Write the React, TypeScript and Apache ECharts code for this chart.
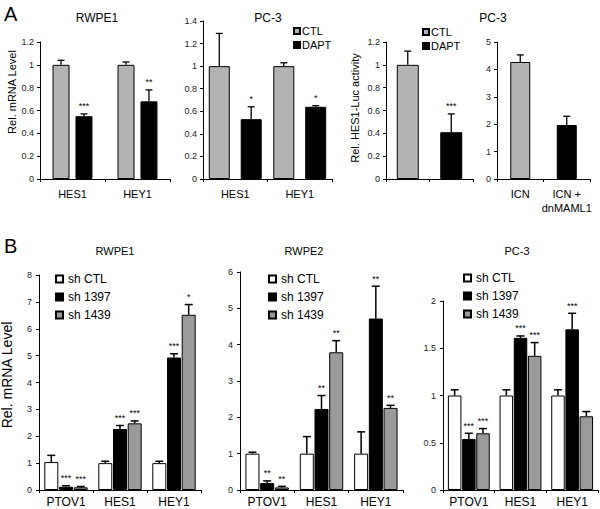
import React, { useEffect, useRef } from 'react';
import * as echarts from 'echarts';

const FONT = '"Liberation Sans", Arial, Helvetica, sans-serif';
const GRAY_A = '#b3b3b3';
const GRAY_B = '#9a9a9a';

// ---------- Panel A1: RWPE1 ----------
const a1Categories = ['HES1', 'HEY1'];
const a1Ctl = [1.0, 1.0];
const a1CtlErr = [0.04, 0.025];
const a1Dapt = [0.55, 0.68];
const a1DaptErr = [0.02, 0.1];
const a1DaptStars = ['***', '**'];

// ---------- Panel A2: PC-3 ----------
const a2Categories = ['HES1', 'HEY1'];
const a2Ctl = [1.0, 1.0];
const a2CtlErr = [0.29, 0.03];
const a2Dapt = [0.53, 0.64];
const a2DaptErr = [0.11, 0.01];
const a2DaptStars = ['*', '*'];

// ---------- Panel A3: HES1-Luc ----------
const a3Categories = ['', ''];
const a3Ctl = [1.0, null];
const a3CtlErr = [0.12, null];
const a3Dapt = [null, 0.41];
const a3DaptErr = [null, 0.16];
const a3DaptStars = ['', '***'];

// ---------- Panel A4: PC-3 ICN ----------
const a4Categories = ['ICN', 'ICN +\ndnMAML1'];
const a4Icn = [4.27, null];
const a4IcnErr = [0.26, null];
const a4Dn = [null, 1.97];
const a4DnErr = [null, 0.32];

// ---------- Panel B ----------
const bCategories = ['PTOV1', 'HES1', 'HEY1'];
const bLegend = ['sh CTL', 'sh 1397', 'sh 1439'];

const b1ShCtl = [1.04, 1.0, 1.0];
const b1ShCtlErr = [0.25, 0.07, 0.07];
const b1Sh1397 = [0.12, 2.27, 4.93];
const b1Sh1397Err = [0.04, 0.13, 0.14];
const b1Sh1397Stars = ['***', '***', '***'];
const b1Sh1439 = [0.1, 2.48, 6.52];
const b1Sh1439Err = [0.03, 0.09, 0.38];
const b1Sh1439Stars = ['***', '***', '*'];

const b2ShCtl = [1.0, 1.0, 1.0];
const b2ShCtlErr = [0.04, 0.47, 0.6];
const b2Sh1397 = [0.19, 2.23, 4.72];
const b2Sh1397Err = [0.06, 0.37, 0.89];
const b2Sh1397Stars = ['**', '**', '**'];
const b2Sh1439 = [0.07, 3.79, 2.26];
const b2Sh1439Err = [0.03, 0.32, 0.07];
const b2Sh1439Stars = ['**', '**', '**'];

const b3ShCtl = [1.0, 1.0, 1.0];
const b3ShCtlErr = [0.06, 0.06, 0.06];
const b3Sh1397 = [0.54, 1.61, 1.7];
const b3Sh1397Err = [0.06, 0.02, 0.17];
const b3Sh1397Stars = ['***', '***', '***'];
const b3Sh1439 = [0.6, 1.42, 0.78];
const b3Sh1439Err = [0.05, 0.14, 0.05];
const b3Sh1439Stars = ['***', '***', ''];

type SDef = {
  name: string;
  color: string;
  values: (number | null)[];
  errs: (number | null)[];
  stars?: string[];
};

type Panel = {
  grid: { left: number; top: number; width: number; height: number };
  yMax: number;
  yInterval: number;
  categories: string[];
  series: SDef[];
  barWidth: number;
  barGap: number;
  overlap?: boolean;
  catFont: number;
  catMargin: number;
  cap: number;
  errWidth: number;
  yLabelMargin: number;
};

const panels: Panel[] = [
  {
    grid: { left: 40, top: 42, width: 130, height: 137 },
    yMax: 1.2, yInterval: 0.2, categories: a1Categories,
    series: [
      { name: 'CTL', color: GRAY_A, values: a1Ctl, errs: a1CtlErr },
      { name: 'DAPT', color: '#000', values: a1Dapt, errs: a1DaptErr, stars: a1DaptStars },
    ],
    barWidth: 17, barGap: 0.35, catFont: 11, catMargin: 8, cap: 7, errWidth: 1.3, yLabelMargin: 6,
  },
  {
    grid: { left: 203, top: 21, width: 129, height: 158 },
    yMax: 1.4, yInterval: 0.2, categories: a2Categories,
    series: [
      { name: 'CTL', color: GRAY_A, values: a2Ctl, errs: a2CtlErr },
      { name: 'DAPT', color: '#000', values: a2Dapt, errs: a2DaptErr, stars: a2DaptStars },
    ],
    barWidth: 21, barGap: 0.52, catFont: 11, catMargin: 8, cap: 7, errWidth: 1.3, yLabelMargin: 6,
  },
  {
    grid: { left: 386, top: 42, width: 87, height: 137 },
    yMax: 1.2, yInterval: 0.2, categories: a3Categories,
    series: [
      { name: 'CTL', color: GRAY_A, values: a3Ctl, errs: a3CtlErr },
      { name: 'DAPT', color: '#000', values: a3Dapt, errs: a3DaptErr, stars: a3DaptStars },
    ],
    barWidth: 22, barGap: 0, overlap: true, catFont: 11, catMargin: 8, cap: 7, errWidth: 1.3, yLabelMargin: 6,
  },
  {
    grid: { left: 497, top: 42, width: 93, height: 137 },
    yMax: 5, yInterval: 1, categories: a4Categories,
    series: [
      { name: 'ICN', color: GRAY_A, values: a4Icn, errs: a4IcnErr },
      { name: 'ICN + dnMAML1', color: '#000', values: a4Dn, errs: a4DnErr },
    ],
    barWidth: 20, barGap: 0, overlap: true, catFont: 11, catMargin: 8, cap: 7, errWidth: 1.3, yLabelMargin: 6,
  },
  {
    grid: { left: 39, top: 275, width: 162, height: 217 },
    yMax: 8, yInterval: 1, categories: bCategories,
    series: [
      { name: bLegend[0], color: '#fff', values: b1ShCtl, errs: b1ShCtlErr },
      { name: bLegend[1], color: '#000', values: b1Sh1397, errs: b1Sh1397Err, stars: b1Sh1397Stars },
      { name: bLegend[2], color: GRAY_B, values: b1Sh1439, errs: b1Sh1439Err, stars: b1Sh1439Stars },
    ],
    barWidth: 14, barGap: 0.05, catFont: 12, catMargin: 5, cap: 8, errWidth: 1.5, yLabelMargin: 7,
  },
  {
    grid: { left: 240, top: 272, width: 163, height: 220 },
    yMax: 6, yInterval: 1, categories: bCategories,
    series: [
      { name: bLegend[0], color: '#fff', values: b2ShCtl, errs: b2ShCtlErr },
      { name: bLegend[1], color: '#000', values: b2Sh1397, errs: b2Sh1397Err, stars: b2Sh1397Stars },
      { name: bLegend[2], color: GRAY_B, values: b2Sh1439, errs: b2Sh1439Err, stars: b2Sh1439Stars },
    ],
    barWidth: 14, barGap: 0.05, catFont: 12, catMargin: 5, cap: 8, errWidth: 1.5, yLabelMargin: 7,
  },
  {
    grid: { left: 443, top: 301, width: 155, height: 189 },
    yMax: 2, yInterval: 0.5, categories: bCategories,
    series: [
      { name: bLegend[0], color: '#fff', values: b3ShCtl, errs: b3ShCtlErr },
      { name: bLegend[1], color: '#000', values: b3Sh1397, errs: b3Sh1397Err, stars: b3Sh1397Stars },
      { name: bLegend[2], color: GRAY_B, values: b3Sh1439, errs: b3Sh1439Err, stars: b3Sh1439Stars },
    ],
    barWidth: 13.5, barGap: 0.05, catFont: 12, catMargin: 5, cap: 8, errWidth: 1.5, yLabelMargin: 7,
  },
];

type TextDef = { text: string; x: number; y: number; size: number; align?: string; rot?: number };
const texts: TextDef[] = [
  { text: 'A', x: 4, y: 14, size: 20, align: 'left' },
  { text: 'B', x: 4, y: 246, size: 20, align: 'left' },
  { text: 'RWPE1', x: 97, y: 18, size: 12 },
  { text: 'PC-3', x: 268, y: 18, size: 12 },
  { text: 'PC-3', x: 493, y: 18, size: 12 },
  { text: 'RWPE1', x: 115, y: 251, size: 11 },
  { text: 'RWPE2', x: 304, y: 251, size: 11 },
  { text: 'PC-3', x: 517, y: 251, size: 11 },
  { text: 'Rel. mRNA Level', x: 12, y: 92, size: 11, rot: Math.PI / 2 },
  { text: 'Rel. HES1-Luc activity', x: 355, y: 108, size: 11, rot: Math.PI / 2 },
  { text: 'Rel. mRNA Level', x: 7, y: 375, size: 14, rot: Math.PI / 2 },
];

function buildOption() {
  const grid: any[] = [];
  const xAxis: any[] = [];
  const yAxis: any[] = [];
  const series: any[] = [];

  panels.forEach((p, pi) => {
    grid.push({ ...p.grid, containLabel: false });
    xAxis.push({
      type: 'category',
      gridIndex: pi,
      data: p.categories,
      axisLine: { show: true, lineStyle: { color: '#000', width: 1 } },
      axisTick: { show: true, length: 3, lineStyle: { color: '#000' } },
      axisLabel: { color: '#000', fontSize: p.catFont, fontFamily: FONT, margin: p.catMargin, interval: 0, lineHeight: 14 },
      splitLine: { show: false },
    });
    yAxis.push({
      type: 'value',
      gridIndex: pi,
      min: 0,
      max: p.yMax,
      interval: p.yInterval,
      axisLine: { show: true, lineStyle: { color: '#000', width: 1 } },
      axisTick: { show: true, length: 3, lineStyle: { color: '#000' } },
      axisLabel: { color: '#222', fontSize: 9, fontFamily: FONT, margin: p.yLabelMargin },
      splitLine: { show: false },
    });
    const n = p.series.length;
    p.series.forEach((s) => {
      series.push({
        type: 'bar',
        name: s.name,
        xAxisIndex: pi,
        yAxisIndex: pi,
        data: s.values.map((v) => (v == null ? '-' : v)),
        barWidth: p.barWidth,
        barGap: p.overlap ? '-100%' : `${p.barGap * 100}%`,
        itemStyle: { color: s.color, borderColor: '#000', borderWidth: 1 },
        silent: true,
        z: 2,
      });
    });
    p.series.forEach((s, si) => {
      const offset = p.overlap ? 0 : (si - (n - 1) / 2) * p.barWidth * (1 + p.barGap);
      const data: number[][] = [];
      const stars: string[] = [];
      s.values.forEach((v, ci) => {
        if (v != null) {
          data.push([ci, v, s.errs[ci] ?? 0]);
          stars.push(s.stars ? s.stars[ci] || '' : '');
        }
      });
      series.push({
        type: 'custom',
        xAxisIndex: pi,
        yAxisIndex: pi,
        data,
        silent: true,
        z: 5,
        renderItem: (params: any, api: any) => {
          const ci = api.value(0);
          const v = api.value(1);
          const e = api.value(2);
          const p0 = api.coord([ci, v]);
          const p1 = api.coord([ci, v + e]);
          const x = p0[0] + offset;
          const children: any[] = [];
          if (e > 0) {
            children.push({
              type: 'line',
              shape: { x1: x, y1: p0[1], x2: x, y2: p1[1] },
              style: { stroke: '#000', lineWidth: p.errWidth },
            });
            children.push({
              type: 'line',
              shape: { x1: x - p.cap / 2, y1: p1[1], x2: x + p.cap / 2, y2: p1[1] },
              style: { stroke: '#000', lineWidth: p.errWidth },
            });
          }
          const st = stars[params.dataIndex];
          if (st) {
            children.push({
              type: 'text',
              x: x,
              y: p1[1] - 3,
              style: {
                text: st,
                fontSize: 9,
                fontFamily: FONT,
                fill: '#000',
                align: 'center',
                verticalAlign: 'bottom',
                textAlign: 'center',
                textVerticalAlign: 'bottom',
              },
            });
          }
          return { type: 'group', children };
        },
      });
    });
  });

  const legendBase = {
    orient: 'vertical',
    icon: 'rect',
    selectedMode: false,
    padding: 0,
  };
  const legend = [
    { ...legendBase, data: ['CTL', 'DAPT'], left: 293, top: 24, itemWidth: 6, itemHeight: 6, itemGap: 0,
      textStyle: { fontSize: 11, fontFamily: FONT, color: '#000', lineHeight: 14, padding: [0, 0, 0, -3] } },
    { ...legendBase, data: ['CTL', 'DAPT'], left: 422, top: 25, itemWidth: 6, itemHeight: 6, itemGap: 0,
      textStyle: { fontSize: 11, fontFamily: FONT, color: '#000', lineHeight: 14, padding: [0, 0, 0, -3] } },
    { ...legendBase, data: bLegend, left: 55, top: 272, itemWidth: 7, itemHeight: 7, itemGap: 4,
      textStyle: { fontSize: 12, fontFamily: FONT, color: '#000', lineHeight: 14 } },
    { ...legendBase, data: bLegend, left: 268, top: 272, itemWidth: 7, itemHeight: 7, itemGap: 4,
      textStyle: { fontSize: 12, fontFamily: FONT, color: '#000', lineHeight: 14 } },
    { ...legendBase, data: bLegend, left: 463, top: 271, itemWidth: 7, itemHeight: 7, itemGap: 4,
      textStyle: { fontSize: 12, fontFamily: FONT, color: '#000', lineHeight: 14 } },
  ];

  const graphic = texts.map((t) => ({
    type: 'text',
    x: t.x,
    y: t.y,
    rotation: t.rot || 0,
    silent: true,
    style: {
      text: t.text,
      fontSize: t.size,
      fontFamily: FONT,
      fill: '#000',
      align: t.align || 'center',
      verticalAlign: 'middle',
      textAlign: t.align || 'center',
      textVerticalAlign: 'middle',
    },
  }));

  return {
    animation: false,
    backgroundColor: '#fff',
    grid,
    xAxis,
    yAxis,
    series,
    legend,
    graphic,
  };
}

export default function App() {
  const ref = useRef<HTMLDivElement>(null);
  useEffect(() => {
    document.body.style.margin = '0';
    if (!ref.current) return;
    const chart = echarts.init(ref.current, null, { renderer: 'svg' });
    chart.setOption(buildOption() as any);
    return () => chart.dispose();
  }, []);
  return <div ref={ref} style={{ position: 'absolute', left: 0, top: 0, width: 600, height: 509 }} />;
}
